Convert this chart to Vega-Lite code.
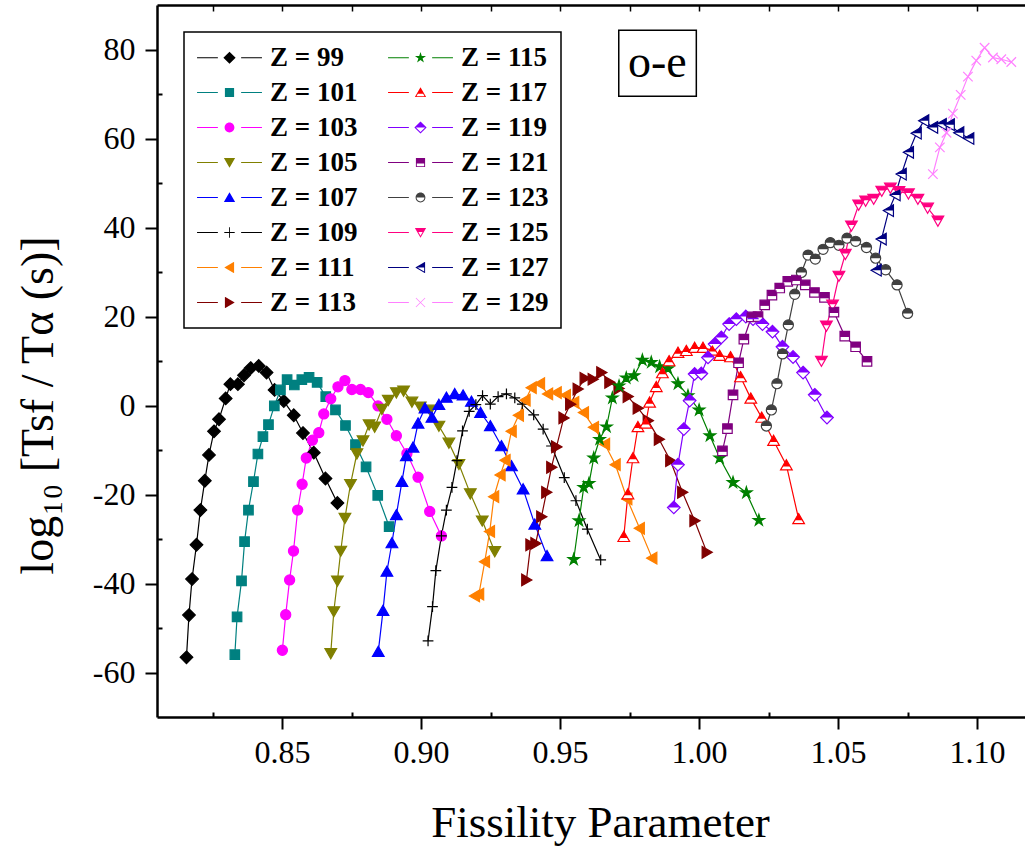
{
  "$schema": "https://vega.github.io/schema/vega-lite/v6.json",
  "width": 868,
  "height": 712,
  "autosize": "none",
  "padding": {"left": 157, "top": 5, "right": 0, "bottom": 135},
  "background": "white",
  "config": {
    "view": {"stroke": null},
    "font": "Liberation Serif",
    "legend": {
      "orient": "top-left",
      "offset": 27,
      "padding": 12,
      "strokeColor": "black",
      "strokeWidth": 1.5,
      "fillColor": "white",
      "labelFont": "Liberation Serif",
      "labelFontSize": 27,
      "labelFontWeight": "bold",
      "labelColor": "black",
      "labelLimit": 0,
      "symbolSize": 150,
      "symbolStrokeWidth": 0,
      "symbolOffset": 20,
      "labelOffset": 27,
      "rowPadding": 7,
      "columnPadding": 29
    }
  },
  "data": {"values": [
    {"s":"Z = 99","x":0.8156,"y":-56.6},{"s":"Z = 99","x":0.8165,"y":-47.1},{"s":"Z = 99","x":0.8176,"y":-39.0},{"s":"Z = 99","x":0.8192,"y":-31.3},{"s":"Z = 99","x":0.8206,"y":-23.5},{"s":"Z = 99","x":0.8222,"y":-16.9},{"s":"Z = 99","x":0.8237,"y":-11.1},{"s":"Z = 99","x":0.8255,"y":-5.8},{"s":"Z = 99","x":0.8273,"y":-3.1},{"s":"Z = 99","x":0.8297,"y":1.6},{"s":"Z = 99","x":0.8314,"y":4.8},{"s":"Z = 99","x":0.8341,"y":4.8},{"s":"Z = 99","x":0.8363,"y":6.8},{"s":"Z = 99","x":0.8387,"y":8.4},{"s":"Z = 99","x":0.8416,"y":8.9},{"s":"Z = 99","x":0.8444,"y":7.4},{"s":"Z = 99","x":0.8473,"y":3.5},{"s":"Z = 99","x":0.8506,"y":1.0},{"s":"Z = 99","x":0.8542,"y":-2.2},{"s":"Z = 99","x":0.8575,"y":-6.2},{"s":"Z = 99","x":0.8614,"y":-10.6},{"s":"Z = 99","x":0.8656,"y":-16.4},{"s":"Z = 99","x":0.8699,"y":-21.9},
    {"s":"Z = 101","x":0.8330,"y":-56.0},{"s":"Z = 101","x":0.8338,"y":-47.5},{"s":"Z = 101","x":0.8354,"y":-39.4},{"s":"Z = 101","x":0.8365,"y":-30.6},{"s":"Z = 101","x":0.8379,"y":-23.5},{"s":"Z = 101","x":0.8397,"y":-17.1},{"s":"Z = 101","x":0.8413,"y":-10.9},{"s":"Z = 101","x":0.8431,"y":-7.0},{"s":"Z = 101","x":0.8451,"y":-4.3},{"s":"Z = 101","x":0.8472,"y":-0.1},{"s":"Z = 101","x":0.8494,"y":3.5},{"s":"Z = 101","x":0.8518,"y":5.8},{"s":"Z = 101","x":0.8544,"y":4.6},{"s":"Z = 101","x":0.8571,"y":5.8},{"s":"Z = 101","x":0.8597,"y":6.3},{"s":"Z = 101","x":0.8626,"y":5.2},{"s":"Z = 101","x":0.8657,"y":2.0},{"s":"Z = 101","x":0.8692,"y":-1.0},{"s":"Z = 101","x":0.8728,"y":-4.5},{"s":"Z = 101","x":0.8764,"y":-8.8},{"s":"Z = 101","x":0.8802,"y":-13.8},{"s":"Z = 101","x":0.8844,"y":-20.2},{"s":"Z = 101","x":0.8885,"y":-27.2},
    {"s":"Z = 103","x":0.8501,"y":-55.0},{"s":"Z = 103","x":0.8513,"y":-47.0},{"s":"Z = 103","x":0.8527,"y":-39.2},{"s":"Z = 103","x":0.8541,"y":-32.7},{"s":"Z = 103","x":0.8556,"y":-23.5},{"s":"Z = 103","x":0.8572,"y":-17.7},{"s":"Z = 103","x":0.8587,"y":-11.8},{"s":"Z = 103","x":0.8609,"y":-7.8},{"s":"Z = 103","x":0.8632,"y":-6.1},{"s":"Z = 103","x":0.8650,"y":-1.9},{"s":"Z = 103","x":0.8675,"y":1.5},{"s":"Z = 103","x":0.8701,"y":4.2},{"s":"Z = 103","x":0.8726,"y":5.6},{"s":"Z = 103","x":0.8751,"y":3.6},{"s":"Z = 103","x":0.8782,"y":3.6},{"s":"Z = 103","x":0.8810,"y":2.9},{"s":"Z = 103","x":0.8845,"y":-0.1},{"s":"Z = 103","x":0.8877,"y":-3.1},{"s":"Z = 103","x":0.8911,"y":-6.8},{"s":"Z = 103","x":0.8949,"y":-10.8},{"s":"Z = 103","x":0.8989,"y":-16.1},{"s":"Z = 103","x":0.9031,"y":-23.8},{"s":"Z = 103","x":0.9073,"y":-29.3},
    {"s":"Z = 105","x":0.8675,"y":-55.7},{"s":"Z = 105","x":0.8686,"y":-46.3},{"s":"Z = 105","x":0.8699,"y":-39.4},{"s":"Z = 105","x":0.8711,"y":-32.7},{"s":"Z = 105","x":0.8726,"y":-25.3},{"s":"Z = 105","x":0.8746,"y":-17.7},{"s":"Z = 105","x":0.8769,"y":-10.8},{"s":"Z = 105","x":0.8791,"y":-7.9},{"s":"Z = 105","x":0.8813,"y":-4.3},{"s":"Z = 105","x":0.8833,"y":-4.8},{"s":"Z = 105","x":0.8859,"y":-0.8},{"s":"Z = 105","x":0.8882,"y":1.2},{"s":"Z = 105","x":0.8911,"y":2.9},{"s":"Z = 105","x":0.8937,"y":3.3},{"s":"Z = 105","x":0.8967,"y":0.8},{"s":"Z = 105","x":0.8997,"y":-0.3},{"s":"Z = 105","x":0.9033,"y":-1.0},{"s":"Z = 105","x":0.9064,"y":-4.6},{"s":"Z = 105","x":0.9100,"y":-8.4},{"s":"Z = 105","x":0.9136,"y":-13.2},{"s":"Z = 105","x":0.9177,"y":-19.8},{"s":"Z = 105","x":0.9220,"y":-25.9},{"s":"Z = 105","x":0.9265,"y":-32.8},
    {"s":"Z = 107","x":0.8846,"y":-55.3},{"s":"Z = 107","x":0.8863,"y":-46.1},{"s":"Z = 107","x":0.8877,"y":-37.3},{"s":"Z = 107","x":0.8895,"y":-30.9},{"s":"Z = 107","x":0.8911,"y":-24.6},{"s":"Z = 107","x":0.8931,"y":-17.1},{"s":"Z = 107","x":0.8947,"y":-11.3},{"s":"Z = 107","x":0.8971,"y":-9.4},{"s":"Z = 107","x":0.8989,"y":-4.0},{"s":"Z = 107","x":0.9014,"y":-0.6},{"s":"Z = 107","x":0.9039,"y":-2.7},{"s":"Z = 107","x":0.9064,"y":0.2},{"s":"Z = 107","x":0.9091,"y":1.8},{"s":"Z = 107","x":0.9121,"y":2.6},{"s":"Z = 107","x":0.9151,"y":2.3},{"s":"Z = 107","x":0.9181,"y":0.9},{"s":"Z = 107","x":0.9214,"y":-1.6},{"s":"Z = 107","x":0.9249,"y":-4.6},{"s":"Z = 107","x":0.9289,"y":-9.1},{"s":"Z = 107","x":0.9325,"y":-13.6},{"s":"Z = 107","x":0.9367,"y":-18.8},{"s":"Z = 107","x":0.9409,"y":-26.7},{"s":"Z = 107","x":0.9453,"y":-33.8},
    {"s":"Z = 109","x":0.9025,"y":-52.9},{"s":"Z = 109","x":0.9041,"y":-45.2},{"s":"Z = 109","x":0.9053,"y":-37.1},{"s":"Z = 109","x":0.9073,"y":-29.3},{"s":"Z = 109","x":0.9091,"y":-23.5},{"s":"Z = 109","x":0.9111,"y":-18.4},{"s":"Z = 109","x":0.9129,"y":-12.4},{"s":"Z = 109","x":0.9149,"y":-5.7},{"s":"Z = 109","x":0.9173,"y":-1.3},{"s":"Z = 109","x":0.9197,"y":0.2},{"s":"Z = 109","x":0.9221,"y":2.2},{"s":"Z = 109","x":0.9249,"y":0.3},{"s":"Z = 109","x":0.9277,"y":2.0},{"s":"Z = 109","x":0.9307,"y":2.6},{"s":"Z = 109","x":0.9337,"y":1.7},{"s":"Z = 109","x":0.9364,"y":0.3},{"s":"Z = 109","x":0.9405,"y":-2.1},{"s":"Z = 109","x":0.9439,"y":-5.3},{"s":"Z = 109","x":0.9469,"y":-9.1},{"s":"Z = 109","x":0.9515,"y":-16.2},{"s":"Z = 109","x":0.9557,"y":-21.4},{"s":"Z = 109","x":0.9598,"y":-27.8},{"s":"Z = 109","x":0.9646,"y":-34.7},
    {"s":"Z = 111","x":0.9193,"y":-42.8},{"s":"Z = 111","x":0.9208,"y":-42.4},{"s":"Z = 111","x":0.9229,"y":-35.1},{"s":"Z = 111","x":0.9247,"y":-28.3},{"s":"Z = 111","x":0.9262,"y":-20.5},{"s":"Z = 111","x":0.9285,"y":-15.6},{"s":"Z = 111","x":0.9303,"y":-12.3},{"s":"Z = 111","x":0.9325,"y":-5.8},{"s":"Z = 111","x":0.9351,"y":-2.2},{"s":"Z = 111","x":0.9375,"y":1.2},{"s":"Z = 111","x":0.9397,"y":4.0},{"s":"Z = 111","x":0.9427,"y":4.9},{"s":"Z = 111","x":0.9456,"y":2.6},{"s":"Z = 111","x":0.9487,"y":2.9},{"s":"Z = 111","x":0.9520,"y":2.3},{"s":"Z = 111","x":0.9550,"y":0.7},{"s":"Z = 111","x":0.9585,"y":-1.6},{"s":"Z = 111","x":0.9621,"y":-4.9},{"s":"Z = 111","x":0.9661,"y":-8.7},{"s":"Z = 111","x":0.9699,"y":-13.3},{"s":"Z = 111","x":0.9741,"y":-21.0},{"s":"Z = 111","x":0.9786,"y":-27.6},{"s":"Z = 111","x":0.9831,"y":-34.3},
    {"s":"Z = 113","x":0.9379,"y":-39.2},{"s":"Z = 113","x":0.9394,"y":-31.3},{"s":"Z = 113","x":0.9412,"y":-31.0},{"s":"Z = 113","x":0.9433,"y":-25.0},{"s":"Z = 113","x":0.9451,"y":-19.5},{"s":"Z = 113","x":0.9469,"y":-13.9},{"s":"Z = 113","x":0.9487,"y":-9.3},{"s":"Z = 113","x":0.9513,"y":-2.8},{"s":"Z = 113","x":0.9537,"y":0.3},{"s":"Z = 113","x":0.9564,"y":3.7},{"s":"Z = 113","x":0.9589,"y":6.1},{"s":"Z = 113","x":0.9618,"y":5.9},{"s":"Z = 113","x":0.9649,"y":7.4},{"s":"Z = 113","x":0.9678,"y":5.2},{"s":"Z = 113","x":0.9711,"y":3.8},{"s":"Z = 113","x":0.9744,"y":2.0},{"s":"Z = 113","x":0.9780,"y":-0.6},{"s":"Z = 113","x":0.9816,"y":-3.4},{"s":"Z = 113","x":0.9856,"y":-7.6},{"s":"Z = 113","x":0.9897,"y":-12.4},{"s":"Z = 113","x":0.9940,"y":-19.5},{"s":"Z = 113","x":0.9984,"y":-25.9},{"s":"Z = 113","x":1.0028,"y":-33.0},
    {"s":"Z = 115","x":0.9549,"y":-34.6},{"s":"Z = 115","x":0.9568,"y":-25.9},{"s":"Z = 115","x":0.9585,"y":-18.4},{"s":"Z = 115","x":0.9604,"y":-17.5},{"s":"Z = 115","x":0.9621,"y":-11.8},{"s":"Z = 115","x":0.9642,"y":-7.6},{"s":"Z = 115","x":0.9667,"y":-4.8},{"s":"Z = 115","x":0.9688,"y":1.7},{"s":"Z = 115","x":0.9712,"y":4.4},{"s":"Z = 115","x":0.9738,"y":6.2},{"s":"Z = 115","x":0.9766,"y":6.7},{"s":"Z = 115","x":0.9796,"y":10.2},{"s":"Z = 115","x":0.9828,"y":9.7},{"s":"Z = 115","x":0.9858,"y":8.7},{"s":"Z = 115","x":0.9888,"y":8.3},{"s":"Z = 115","x":0.9924,"y":4.9},{"s":"Z = 115","x":0.9960,"y":2.2},{"s":"Z = 115","x":1.0000,"y":-1.0},{"s":"Z = 115","x":1.0039,"y":-6.8},{"s":"Z = 115","x":1.0074,"y":-11.8},{"s":"Z = 115","x":1.0122,"y":-17.3},{"s":"Z = 115","x":1.0170,"y":-19.6},{"s":"Z = 115","x":1.0215,"y":-25.8},
    {"s":"Z = 117","x":0.9729,"y":-29.5},{"s":"Z = 117","x":0.9744,"y":-19.9},{"s":"Z = 117","x":0.9762,"y":-11.8},{"s":"Z = 117","x":0.9780,"y":-4.8},{"s":"Z = 117","x":0.9808,"y":-4.0},{"s":"Z = 117","x":0.9822,"y":0.7},{"s":"Z = 117","x":0.9846,"y":4.2},{"s":"Z = 117","x":0.9868,"y":7.3},{"s":"Z = 117","x":0.9892,"y":10.0},{"s":"Z = 117","x":0.9924,"y":11.9},{"s":"Z = 117","x":0.9954,"y":12.3},{"s":"Z = 117","x":0.9984,"y":13.0},{"s":"Z = 117","x":1.0014,"y":13.0},{"s":"Z = 117","x":1.0048,"y":12.4},{"s":"Z = 117","x":1.0074,"y":11.2},{"s":"Z = 117","x":1.0113,"y":10.9},{"s":"Z = 117","x":1.0149,"y":6.4},{"s":"Z = 117","x":1.0186,"y":1.6},{"s":"Z = 117","x":1.0225,"y":-2.7},{"s":"Z = 117","x":1.0268,"y":-7.9},{"s":"Z = 117","x":1.0314,"y":-13.4},{"s":"Z = 117","x":1.0358,"y":-25.5},
    {"s":"Z = 119","x":0.9909,"y":-22.9},{"s":"Z = 119","x":0.9924,"y":-13.3},{"s":"Z = 119","x":0.9945,"y":-5.3},{"s":"Z = 119","x":0.9966,"y":1.1},{"s":"Z = 119","x":0.9984,"y":7.1},{"s":"Z = 119","x":1.0008,"y":7.2},{"s":"Z = 119","x":1.0032,"y":10.8},{"s":"Z = 119","x":1.0056,"y":13.8},{"s":"Z = 119","x":1.0080,"y":15.3},{"s":"Z = 119","x":1.0108,"y":18.3},{"s":"Z = 119","x":1.0134,"y":19.4},{"s":"Z = 119","x":1.0168,"y":20.0},{"s":"Z = 119","x":1.0194,"y":19.4},{"s":"Z = 119","x":1.0228,"y":18.3},{"s":"Z = 119","x":1.0264,"y":16.6},{"s":"Z = 119","x":1.0300,"y":13.2},{"s":"Z = 119","x":1.0338,"y":10.9},{"s":"Z = 119","x":1.0374,"y":7.4},{"s":"Z = 119","x":1.0416,"y":2.4},{"s":"Z = 119","x":1.0460,"y":-2.7},
    {"s":"Z = 121","x":1.0084,"y":-10.2},{"s":"Z = 121","x":1.0102,"y":-5.2},{"s":"Z = 121","x":1.0122,"y":2.4},{"s":"Z = 121","x":1.0142,"y":9.6},{"s":"Z = 121","x":1.0161,"y":14.9},{"s":"Z = 121","x":1.0188,"y":19.9},{"s":"Z = 121","x":1.0212,"y":20.0},{"s":"Z = 121","x":1.0236,"y":22.6},{"s":"Z = 121","x":1.0262,"y":24.8},{"s":"Z = 121","x":1.0290,"y":26.4},{"s":"Z = 121","x":1.0319,"y":27.9},{"s":"Z = 121","x":1.0350,"y":28.2},{"s":"Z = 121","x":1.0382,"y":27.1},{"s":"Z = 121","x":1.0415,"y":25.4},{"s":"Z = 121","x":1.0451,"y":24.3},{"s":"Z = 121","x":1.0485,"y":21.0},{"s":"Z = 121","x":1.0524,"y":15.6},{"s":"Z = 121","x":1.0563,"y":13.2},{"s":"Z = 121","x":1.0604,"y":9.9},
    {"s":"Z = 123","x":1.0242,"y":-4.6},{"s":"Z = 123","x":1.0260,"y":-1.0},{"s":"Z = 123","x":1.0280,"y":4.9},{"s":"Z = 123","x":1.0300,"y":11.6},{"s":"Z = 123","x":1.0321,"y":18.1},{"s":"Z = 123","x":1.0344,"y":25.0},{"s":"Z = 123","x":1.0368,"y":29.9},{"s":"Z = 123","x":1.0392,"y":33.8},{"s":"Z = 123","x":1.0418,"y":32.9},{"s":"Z = 123","x":1.0446,"y":35.1},{"s":"Z = 123","x":1.0472,"y":36.6},{"s":"Z = 123","x":1.0503,"y":36.0},{"s":"Z = 123","x":1.0532,"y":37.6},{"s":"Z = 123","x":1.0563,"y":36.9},{"s":"Z = 123","x":1.0602,"y":35.5},{"s":"Z = 123","x":1.0635,"y":33.1},{"s":"Z = 123","x":1.0671,"y":30.5},{"s":"Z = 123","x":1.0712,"y":27.1},{"s":"Z = 123","x":1.0750,"y":20.7},
    {"s":"Z = 125","x":1.0440,"y":10.0},{"s":"Z = 125","x":1.0458,"y":17.9},{"s":"Z = 125","x":1.0480,"y":22.6},{"s":"Z = 125","x":1.0503,"y":29.1},{"s":"Z = 125","x":1.0526,"y":34.0},{"s":"Z = 125","x":1.0548,"y":40.4},{"s":"Z = 125","x":1.0574,"y":45.1},{"s":"Z = 125","x":1.0599,"y":46.0},{"s":"Z = 125","x":1.0628,"y":46.4},{"s":"Z = 125","x":1.0657,"y":48.2},{"s":"Z = 125","x":1.0688,"y":48.9},{"s":"Z = 125","x":1.0719,"y":48.1},{"s":"Z = 125","x":1.0753,"y":47.6},{"s":"Z = 125","x":1.0787,"y":46.4},{"s":"Z = 125","x":1.0822,"y":44.4},{"s":"Z = 125","x":1.0859,"y":41.5},
    {"s":"Z = 127","x":1.0638,"y":30.4},{"s":"Z = 127","x":1.0656,"y":37.4},{"s":"Z = 127","x":1.0682,"y":43.8},{"s":"Z = 127","x":1.0706,"y":47.3},{"s":"Z = 127","x":1.0728,"y":52.0},{"s":"Z = 127","x":1.0754,"y":56.9},{"s":"Z = 127","x":1.0782,"y":61.2},{"s":"Z = 127","x":1.0809,"y":64.0},{"s":"Z = 127","x":1.0841,"y":62.5},{"s":"Z = 127","x":1.0872,"y":63.2},{"s":"Z = 127","x":1.0901,"y":63.1},{"s":"Z = 127","x":1.0935,"y":61.3},{"s":"Z = 127","x":1.0971,"y":60.0},
    {"s":"Z = 129","x":1.0841,"y":52.0},{"s":"Z = 129","x":1.0866,"y":58.0},{"s":"Z = 129","x":1.0890,"y":61.3},{"s":"Z = 129","x":1.0913,"y":65.6},{"s":"Z = 129","x":1.0941,"y":69.8},{"s":"Z = 129","x":1.0967,"y":73.9},{"s":"Z = 129","x":1.0997,"y":77.5},{"s":"Z = 129","x":1.1027,"y":80.4},{"s":"Z = 129","x":1.1057,"y":78.2},{"s":"Z = 129","x":1.1087,"y":77.8},{"s":"Z = 129","x":1.1123,"y":77.2}
  ]},
  "resolve": {
    "scale": {"shape": "independent", "fill": "independent"},
    "axis": {"x": "independent", "y": "independent"}
  },
  "layer": [
    {
      "mark": {"type": "line", "strokeWidth": 1.2},
      "encoding": {
        "x": {"field": "x", "type": "quantitative",
          "scale": {"domain": [0.805, 1.11723], "nice": false, "zero": false},
          "axis": {"orient": "bottom",
            "values": [0.825, 0.85, 0.875, 0.9, 0.925, 0.95, 0.975, 1, 1.025, 1.05, 1.075, 1.1],
            "labelExpr": "abs(datum.value*20 - round(datum.value*20)) > 0.25 ? '' : format(datum.value, '.2f')",
            "tickSize": {"condition": {"test": "abs(datum.value*20 - round(datum.value*20)) > 0.25", "value": -5}, "value": 12},
            "tickWidth": 2, "tickColor": "black",
            "domain": true, "domainColor": "black", "domainWidth": 2.5,
            "labelFont": "Liberation Serif", "labelFontSize": 32, "labelColor": "black",
            "labelPadding": 8, "labelOverlap": false, "labelFlush": false,
            "grid": false,
            "title": "Fissility Parameter", "titleFont": "Liberation Serif", "titleFontSize": 45,
            "titleFontWeight": "normal", "titleColor": "black", "titlePadding": 32, "titleX": 443}},
        "y": {"field": "y", "type": "quantitative",
          "scale": {"domain": [-70, 90], "nice": false, "zero": false},
          "axis": {"orient": "left",
            "values": [-60, -50, -40, -30, -20, -10, 0, 10, 20, 30, 40, 50, 60, 70, 80],
            "labelExpr": "datum.value % 20 != 0 ? '' : (datum.value < 0 ? '-' + format(-datum.value, 'd') : format(datum.value, 'd'))",
            "tickSize": {"condition": {"test": "datum.value % 20 != 0", "value": -5}, "value": 12},
            "tickWidth": 2, "tickColor": "black",
            "domain": true, "domainColor": "black", "domainWidth": 2.5,
            "labelFont": "Liberation Serif", "labelFontSize": 32, "labelColor": "black",
            "labelPadding": 10, "labelOverlap": false, "labelFlush": false,
            "grid": false,
            "title": "log₁₀ [Tsf / Tα (s)]", "titleFont": "Liberation Serif", "titleFontSize": 46,
            "titleFontWeight": "normal", "titleColor": "black", "titlePadding": 30, "titleY": 400}},
        "stroke": {"field": "s", "type": "nominal",
          "scale": {"domain": ["Z = 99","Z = 101","Z = 103","Z = 105","Z = 107","Z = 109","Z = 111","Z = 113","Z = 115","Z = 117","Z = 119","Z = 121","Z = 123","Z = 125","Z = 127","Z = 129"],
            "range": ["#000000","#008080","#FF00FF","#808000","#0000FF","#000000","#FF8000","#800000","#008000","#FF0000","#8000FF","#800080","#404040","#FF0080","#000080","#FF80FF"]},
          "legend": null}
      }
    },
    {
      "mark": {"type": "point", "filled": true, "opacity": 1, "size": 160, "strokeWidth": 1.2},
      "encoding": {
        "x": {"field": "x", "type": "quantitative",
          "scale": {"domain": [0.805, 1.11723], "nice": false, "zero": false},
          "axis": {"orient": "top",
            "values": [0.825, 0.85, 0.875, 0.9, 0.925, 0.95, 0.975, 1, 1.025, 1.05, 1.075, 1.1],
            "labels": false, "tickSize": -6, "tickWidth": 1.5, "tickColor": "black",
            "domain": true, "domainColor": "black", "domainWidth": 2.5,
            "grid": false, "title": null}},
        "y": {"field": "y", "type": "quantitative",
          "scale": {"domain": [-70, 90], "nice": false, "zero": false}, "axis": null},
        "stroke": {"field": "s", "type": "nominal",
          "scale": {"domain": ["Z = 99","Z = 101","Z = 103","Z = 105","Z = 107","Z = 109","Z = 111","Z = 113","Z = 115","Z = 117","Z = 119","Z = 121","Z = 123","Z = 125","Z = 127","Z = 129"],
            "range": ["#000000","#008080","#FF00FF","#808000","#0000FF","#000000","#FF8000","#800000","#008000","#FF0000","#8000FF","#800080","#404040","#FF0080","#000080","#FF80FF"]},
          "legend": null},
        "fill": {"field": "s", "type": "nominal",
          "scale": {"domain": ["Z = 99","Z = 101","Z = 103","Z = 105","Z = 107","Z = 109","Z = 111","Z = 113","Z = 115","Z = 117","Z = 119","Z = 121","Z = 123","Z = 125","Z = 127","Z = 129"],
            "range": ["#000000","#008080","#FF00FF","#808000","#0000FF","#FFFFFF","#FF8000","#800000","#008000","#FFFFFF","#FFFFFF","#FFFFFF","#FFFFFF","#FFFFFF","#FFFFFF","#FFFFFF"]},
          "legend": null},
        "shape": {"field": "s", "type": "nominal",
          "scale": {"domain": ["Z = 99","Z = 101","Z = 103","Z = 105","Z = 107","Z = 109","Z = 111","Z = 113","Z = 115","Z = 117","Z = 119","Z = 121","Z = 123","Z = 125","Z = 127","Z = 129"],
            "range": [
              "M0,-1L1,0L0,1L-1,0Z",
              "M-0.75,-0.75H0.75V0.75H-0.75Z",
              "M-0.8,0A0.8,0.8 0 1,1 0.8,0A0.8,0.8 0 1,1 -0.8,0Z",
              "M-0.92,-0.75L0.92,-0.75L0,0.85Z",
              "M0,-0.85L0.92,0.75L-0.92,0.75Z",
              "M-0.85,0H0.85M0,-0.85V0.85",
              "M-0.85,0L0.75,-0.92L0.75,0.92Z",
              "M0.85,0L-0.75,-0.92L-0.75,0.92Z",
              "M0,-0.95L0.21,-0.29L0.9,-0.29L0.34,0.11L0.56,0.77L0,0.36L-0.56,0.77L-0.34,0.11L-0.9,-0.29L-0.21,-0.29Z",
              "M0,-0.85L0.92,0.75L-0.92,0.75Z",
              "M0,-1L1,0L0,1L-1,0Z",
              "M-0.75,-0.75H0.75V0.75H-0.75Z",
              "M-0.8,0A0.8,0.8 0 1,1 0.8,0A0.8,0.8 0 1,1 -0.8,0Z",
              "M-0.92,-0.75L0.92,-0.75L0,0.85Z",
              "M-0.85,0L0.75,-0.92L0.75,0.92Z",
              "M-0.75,-0.75L0.75,0.75M-0.75,0.75L0.75,-0.75"
            ]},
          "legend": null}
      }
    },
    {
      "transform": [{"filter": {"field": "s", "oneOf": ["Z = 117","Z = 119","Z = 121","Z = 123","Z = 125","Z = 127"]}}],
      "mark": {"type": "point", "filled": true, "opacity": 1, "size": 160, "strokeWidth": 0},
      "encoding": {
        "x": {"field": "x", "type": "quantitative",
          "scale": {"domain": [0.805, 1.11723], "nice": false, "zero": false}, "axis": null},
        "y": {"field": "y", "type": "quantitative",
          "scale": {"domain": [-70, 90], "nice": false, "zero": false}, "axis": null},
        "fill": {"field": "s", "type": "nominal",
          "scale": {"domain": ["Z = 117","Z = 119","Z = 121","Z = 123","Z = 125","Z = 127"],
            "range": ["#FF0000","#8000FF","#800080","#404040","#FF0080","#000080"]},
          "legend": null},
        "shape": {"field": "s", "type": "nominal",
          "scale": {"domain": ["Z = 117","Z = 119","Z = 121","Z = 123","Z = 125","Z = 127"],
            "range": [
              "M0,-0.85L0.604,0.2L-0.604,0.2Z",
              "M0,-1L1,0L-1,0Z",
              "M-0.75,-0.75H0.75V0.15H-0.75Z",
              "M-0.8,0A0.8,0.8 0 0,1 0.8,0Z",
              "M-0.92,-0.75L0.92,-0.75L0.546,-0.1L-0.546,-0.1Z",
              "M-0.85,0L0.75,-0.92L0.75,0Z"
            ]},
          "legend": null}
      }
    },
    {
      "transform": [{"filter": "datum.x > 5"}],
      "mark": {"type": "point", "filled": true, "opacity": 1, "size": 150, "strokeWidth": 0},
      "encoding": {
        "x": {"field": "x", "type": "quantitative",
          "scale": {"domain": [0.805, 1.11723], "nice": false, "zero": false}, "axis": null},
        "y": {"field": "y", "type": "quantitative",
          "scale": {"domain": [-70, 90], "nice": false, "zero": false}, "axis": null},
        "fill": {"field": "s", "type": "nominal",
          "scale": {"domain": ["Z = 99","Z = 101","Z = 103","Z = 105","Z = 107","Z = 109","Z = 111","Z = 113","Z = 115","Z = 117","Z = 119","Z = 121","Z = 123","Z = 125","Z = 127","Z = 129"],
            "range": ["#000000","#008080","#FF00FF","#808000","#0000FF","#000000","#FF8000","#800000","#008000","#FF0000","#8000FF","#800080","#404040","#FF0080","#000080","#FF80FF"]},
          "legend": {"title": null, "columns": 2}},
        "shape": {"field": "s", "type": "nominal",
          "scale": {"domain": ["Z = 99","Z = 101","Z = 103","Z = 105","Z = 107","Z = 109","Z = 111","Z = 113","Z = 115","Z = 117","Z = 119","Z = 121","Z = 123","Z = 125","Z = 127","Z = 129"],
            "range": [
              "M-5.3,-0.08H-1.9V0.08H-5.3ZM1.9,-0.08H5.3V0.08H1.9ZM0,-1L1,0L0,1L-1,0Z",
              "M-5.3,-0.08H-1.9V0.08H-5.3ZM1.9,-0.08H5.3V0.08H1.9ZM-0.75,-0.75H0.75V0.75H-0.75Z",
              "M-5.3,-0.08H-1.9V0.08H-5.3ZM1.9,-0.08H5.3V0.08H1.9ZM-0.8,0A0.8,0.8 0 1,1 0.8,0A0.8,0.8 0 1,1 -0.8,0Z",
              "M-5.3,-0.08H-1.9V0.08H-5.3ZM1.9,-0.08H5.3V0.08H1.9ZM-0.92,-0.75L0.92,-0.75L0,0.85Z",
              "M-5.3,-0.08H-1.9V0.08H-5.3ZM1.9,-0.08H5.3V0.08H1.9ZM0,-0.85L0.92,0.75L-0.92,0.75Z",
              "M-5.3,-0.08H-1.9V0.08H-5.3ZM1.9,-0.08H5.3V0.08H1.9ZM-0.85,-0.07H0.85V0.07H-0.85ZM-0.07,-0.85H0.07V0.85H-0.07Z",
              "M-5.3,-0.08H-1.9V0.08H-5.3ZM1.9,-0.08H5.3V0.08H1.9ZM-0.85,0L0.75,-0.92L0.75,0.92Z",
              "M-5.3,-0.08H-1.9V0.08H-5.3ZM1.9,-0.08H5.3V0.08H1.9ZM0.85,0L-0.75,-0.92L-0.75,0.92Z",
              "M-5.3,-0.08H-1.9V0.08H-5.3ZM1.9,-0.08H5.3V0.08H1.9ZM0,-0.95L0.21,-0.29L0.9,-0.29L0.34,0.11L0.56,0.77L0,0.36L-0.56,0.77L-0.34,0.11L-0.9,-0.29L-0.21,-0.29Z",
              "M-5.3,-0.08H-1.9V0.08H-5.3ZM1.9,-0.08H5.3V0.08H1.9ZM0,-0.85L0.92,0.75L-0.92,0.75ZM0,-0.52L-0.66,0.6L0.66,0.6ZM0,-0.85L0.604,0.2L-0.604,0.2Z",
              "M-5.3,-0.08H-1.9V0.08H-5.3ZM1.9,-0.08H5.3V0.08H1.9ZM0,-1L1,0L0,1L-1,0ZM0,-0.75L-0.75,0L0,0.75L0.75,0ZM0,-1L1,0L-1,0Z",
              "M-5.3,-0.08H-1.9V0.08H-5.3ZM1.9,-0.08H5.3V0.08H1.9ZM-0.75,-0.75H0.75V0.75H-0.75ZM-0.6,-0.6V0.6H0.6V-0.6ZM-0.75,-0.75H0.75V0.15H-0.75Z",
              "M-5.3,-0.08H-1.9V0.08H-5.3ZM1.9,-0.08H5.3V0.08H1.9ZM-0.8,0A0.8,0.8 0 1,1 0.8,0A0.8,0.8 0 1,1 -0.8,0ZM-0.64,0A0.64,0.64 0 1,0 0.64,0A0.64,0.64 0 1,0 -0.64,0ZM-0.8,0A0.8,0.8 0 0,1 0.8,0Z",
              "M-5.3,-0.08H-1.9V0.08H-5.3ZM1.9,-0.08H5.3V0.08H1.9ZM-0.92,-0.75L0.92,-0.75L0,0.85ZM-0.64,-0.6L0,0.52L0.64,-0.6ZM-0.92,-0.75L0.92,-0.75L0.546,-0.1L-0.546,-0.1Z",
              "M-5.3,-0.08H-1.9V0.08H-5.3ZM1.9,-0.08H5.3V0.08H1.9ZM-0.85,0L0.75,-0.92L0.75,0.92ZM-0.52,0L0.6,0.66L0.6,-0.66ZM-0.85,0L0.75,-0.92L0.75,0Z",
              "M-5.3,-0.08H-1.9V0.08H-5.3ZM1.9,-0.08H5.3V0.08H1.9ZM-0.79,-0.71L0.71,0.79L0.79,0.71L-0.71,-0.79ZM-0.71,0.79L0.79,-0.71L0.71,-0.79L-0.79,0.71Z"
            ]},
          "legend": {"title": null, "columns": 2}}
      }
    },
    {
      "data": {"values": [{"label": "o-e"}]},
      "mark": {"type": "rect", "fill": "white", "stroke": "black", "strokeWidth": 1.5},
      "encoding": {
        "x": {"datum": 0.9711, "type": "quantitative",
          "scale": {"domain": [0.805, 1.11723], "nice": false, "zero": false}, "axis": null},
        "x2": {"datum": 0.9990},
        "y": {"datum": 84.3, "type": "quantitative",
          "scale": {"domain": [-70, 90], "nice": false, "zero": false}, "axis": null},
        "y2": {"datum": 69.5}
      }
    },
    {
      "data": {"values": [{"label": "o-e"}]},
      "mark": {"type": "text", "font": "Liberation Serif", "fontSize": 46, "fontWeight": "normal", "fill": "black", "align": "center", "baseline": "middle"},
      "encoding": {
        "x": {"datum": 0.985, "type": "quantitative",
          "scale": {"domain": [0.805, 1.11723], "nice": false, "zero": false}, "axis": null},
        "y": {"datum": 76.9, "type": "quantitative",
          "scale": {"domain": [-70, 90], "nice": false, "zero": false}, "axis": null},
        "text": {"field": "label"}
      }
    }
  ]
}
